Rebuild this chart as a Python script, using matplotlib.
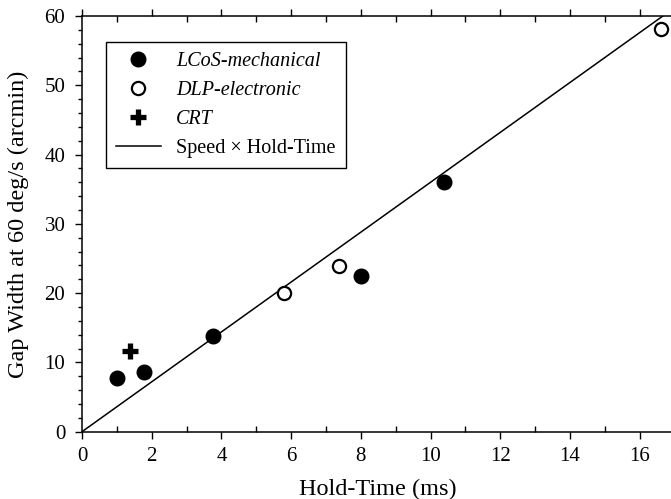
import numpy as np
import matplotlib.pyplot as plt
from matplotlib.ticker import MultipleLocator

plt.rcParams['font.family'] = ['Liberation Serif', 'DejaVu Serif']

# data
lcos_hold = [1.0, 1.77, 3.77, 8.0, 10.4]
lcos_gap = [7.8, 8.6, 13.8, 22.5, 36.0]
dlp_hold = [5.8, 7.38, 16.6]
dlp_gap = [20.0, 23.9, 58.1]
crt_hold = [1.39]
crt_gap = [11.6]
speed = 60.0  # deg/s -> 3.6 arcmin per ms
line_hold = [0.0, 17.0]

fig = plt.figure(figsize=(6.71, 4.99), dpi=100)
# axes runs slightly off the right edge, like the original crop
ax = fig.add_axes([82 / 671, 1 - 431.7 / 499, 592.5 / 671, 415.7 / 499])

ax.plot(lcos_hold, lcos_gap, 'o', color='black', ms=10.5, label='LCoS-mechanical', zorder=3)
ax.plot(dlp_hold, dlp_gap, 'o', mfc='white', mec='black', mew=1.6, ms=9.5,
        label='DLP-electronic', zorder=3)
ax.plot(crt_hold, crt_gap, '+', color='black', ms=11, mew=3.8, label='CRT', zorder=3)
line_gap = [h * speed * 60 / 1000 for h in line_hold]
ax.plot(line_hold, line_gap, '-', color='black', lw=1.1, label='Speed \u00d7 Hold-Time', zorder=2)

ax.set_xlim(0, 17)
ax.set_ylim(0, 60)
ax.xaxis.set_major_locator(MultipleLocator(2))
ax.xaxis.set_minor_locator(MultipleLocator(1))
ax.yaxis.set_major_locator(MultipleLocator(10))
ax.yaxis.set_minor_locator(MultipleLocator(2))

# major ticks point out, minor ticks point in on the x axis
ax.tick_params(axis='x', which='major', direction='out', length=5, width=1, labelsize=15, pad=6)
ax.tick_params(axis='x', which='minor', direction='in', length=4, width=1)
ax.tick_params(axis='y', which='major', direction='out', length=5, width=1, labelsize=15, pad=7)
ax.tick_params(axis='y', which='minor', direction='out', length=3, width=1)
ax.tick_params(which='both', top=True, right=True)
for s in ax.spines.values():
    s.set_linewidth(1.1)

ax.set_xlabel('Hold-Time (ms)', fontsize=17.5, labelpad=9)
ax.set_ylabel('Gap Width at 60 deg/s (arcmin)', fontsize=17.5, labelpad=11)

leg = ax.legend(loc='upper left', bbox_to_anchor=(0.04, 0.937), fontsize=14.5,
                frameon=True, fancybox=False, edgecolor='black', framealpha=1,
                handlelength=2.25, borderpad=0.5, labelspacing=0.48, handletextpad=0.75,
                borderaxespad=0)
leg.get_frame().set_linewidth(1.0)
for t in leg.get_texts()[:3]:
    t.set_style('italic')

fig.savefig('out.png', dpi=100)
